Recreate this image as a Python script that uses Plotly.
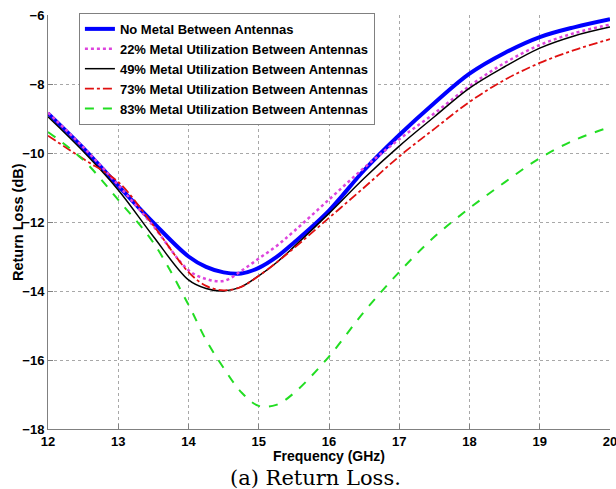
import plotly.graph_objects as go

freq = [12, 12.5, 13, 13.5, 14, 14.25, 14.5, 14.75, 15, 15.25, 15.5, 16, 16.5, 17, 17.5, 18, 18.5, 19, 19.5, 20]

no_metal = [-8.85, -9.85, -10.95, -12.02, -13.0, -13.3, -13.46, -13.49, -13.33, -13.02, -12.6, -11.67, -10.5, -9.48, -8.55, -7.7, -7.1, -6.64, -6.35, -6.12]
metal_22 = [-8.83, -9.83, -10.93, -12.12, -13.4, -13.65, -13.71, -13.42, -13.06, -12.7, -12.27, -11.35, -10.43, -9.6, -8.85, -8.06, -7.39, -6.87, -6.52, -6.28]
metal_49 = [-8.95, -9.95, -11.07, -12.42, -13.68, -13.93, -14.0, -13.88, -13.56, -13.18, -12.72, -11.75, -10.73, -9.8, -8.95, -8.12, -7.5, -6.96, -6.6, -6.35]
metal_73 = [-9.5, -10.17, -10.84, -12.1, -13.45, -13.85, -13.98, -13.88, -13.56, -13.18, -12.76, -11.88, -11.0, -10.1, -9.3, -8.52, -7.88, -7.39, -7.01, -6.7]
metal_83 = [-9.39, -10.2, -11.36, -12.6, -14.4, -15.42, -16.23, -16.93, -17.33, -17.3, -16.96, -15.9, -14.6, -13.45, -12.43, -11.6, -10.85, -10.15, -9.62, -9.25]

names = [
    "No Metal Between Antennas",
    "22% Metal Utilization Between Antennas",
    "49% Metal Utilization Between Antennas",
    "73% Metal Utilization Between Antennas",
    "83% Metal Utilization Between Antennas",
]
series = [no_metal, metal_22, metal_49, metal_73, metal_83]
styles = [
    dict(color="#0000ff", width=4, dash="solid"),
    dict(color="#dd44dd", width=2.5, dash="dot"),
    dict(color="#000000", width=1.5, dash="solid"),
    dict(color="#e01010", width=1.8, dash="dashdot"),
    dict(color="#22dd22", width=2, dash="dash"),
]

xticks = [12, 13, 14, 15, 16, 17, 18, 19, 20]
yticks = [-18, -16, -14, -12, -10, -8, -6]

fig = go.Figure()
for n, s, st in zip(names, series, styles):
    fig.add_trace(go.Scatter(x=freq, y=s, name=n, mode="lines",
                             line=dict(shape="spline", smoothing=1.0, **st)))

axis_common = dict(
    showline=True, linecolor="#808080", linewidth=1,
    ticks="inside", ticklen=5, tickcolor="#808080",
    showgrid=True, gridcolor="#a8a8a8", griddash="dot", gridwidth=1,
    zeroline=False, mirror=False, automargin=False,
    tickfont=dict(family="Liberation Sans", size=13, color="#000000", weight="bold"),
)

fig.update_xaxes(range=[12, 20], tickvals=xticks, ticklabeloverflow="allow", **axis_common)
fig.update_yaxes(range=[-18, -6], tickvals=yticks, **axis_common)

fig.update_layout(
    width=616, height=489,
    margin=dict(l=48, r=6, t=15, b=60),
    plot_bgcolor="white", paper_bgcolor="white",
    legend=dict(x=0.055, y=1.005, xanchor="left", yanchor="top",
                bgcolor="white", bordercolor="#808080", borderwidth=1,
                font=dict(family="Liberation Sans", size=13, color="#000", weight="bold"),
                tracegroupgap=0, itemwidth=30),
    showlegend=True,
)

fig.add_annotation(text="<b>Frequency (GHz)</b>", xref="paper", yref="paper",
                   x=(329 - 48) / 562, y=-(456 - 429) / 414, xanchor="center", yanchor="middle",
                   showarrow=False, font=dict(family="Liberation Sans", size=14, color="#000"))

fig.add_annotation(text="<b>Return Loss (dB)</b>", xref="paper", yref="paper",
                   x=-(48 - 18) / 562, y=0.5, xanchor="center", yanchor="middle", textangle=-90,
                   showarrow=False, font=dict(family="Liberation Sans", size=14.5, color="#000"))

fig.add_annotation(text="(a) Return Loss.", xref="paper", yref="paper",
                   x=(315 - 48) / 562, y=-(478 - 429) / 414, xanchor="center", yanchor="middle",
                   showarrow=False, font=dict(family="DejaVu Serif", size=21, color="#000"))

fig.write_html("out.html")
